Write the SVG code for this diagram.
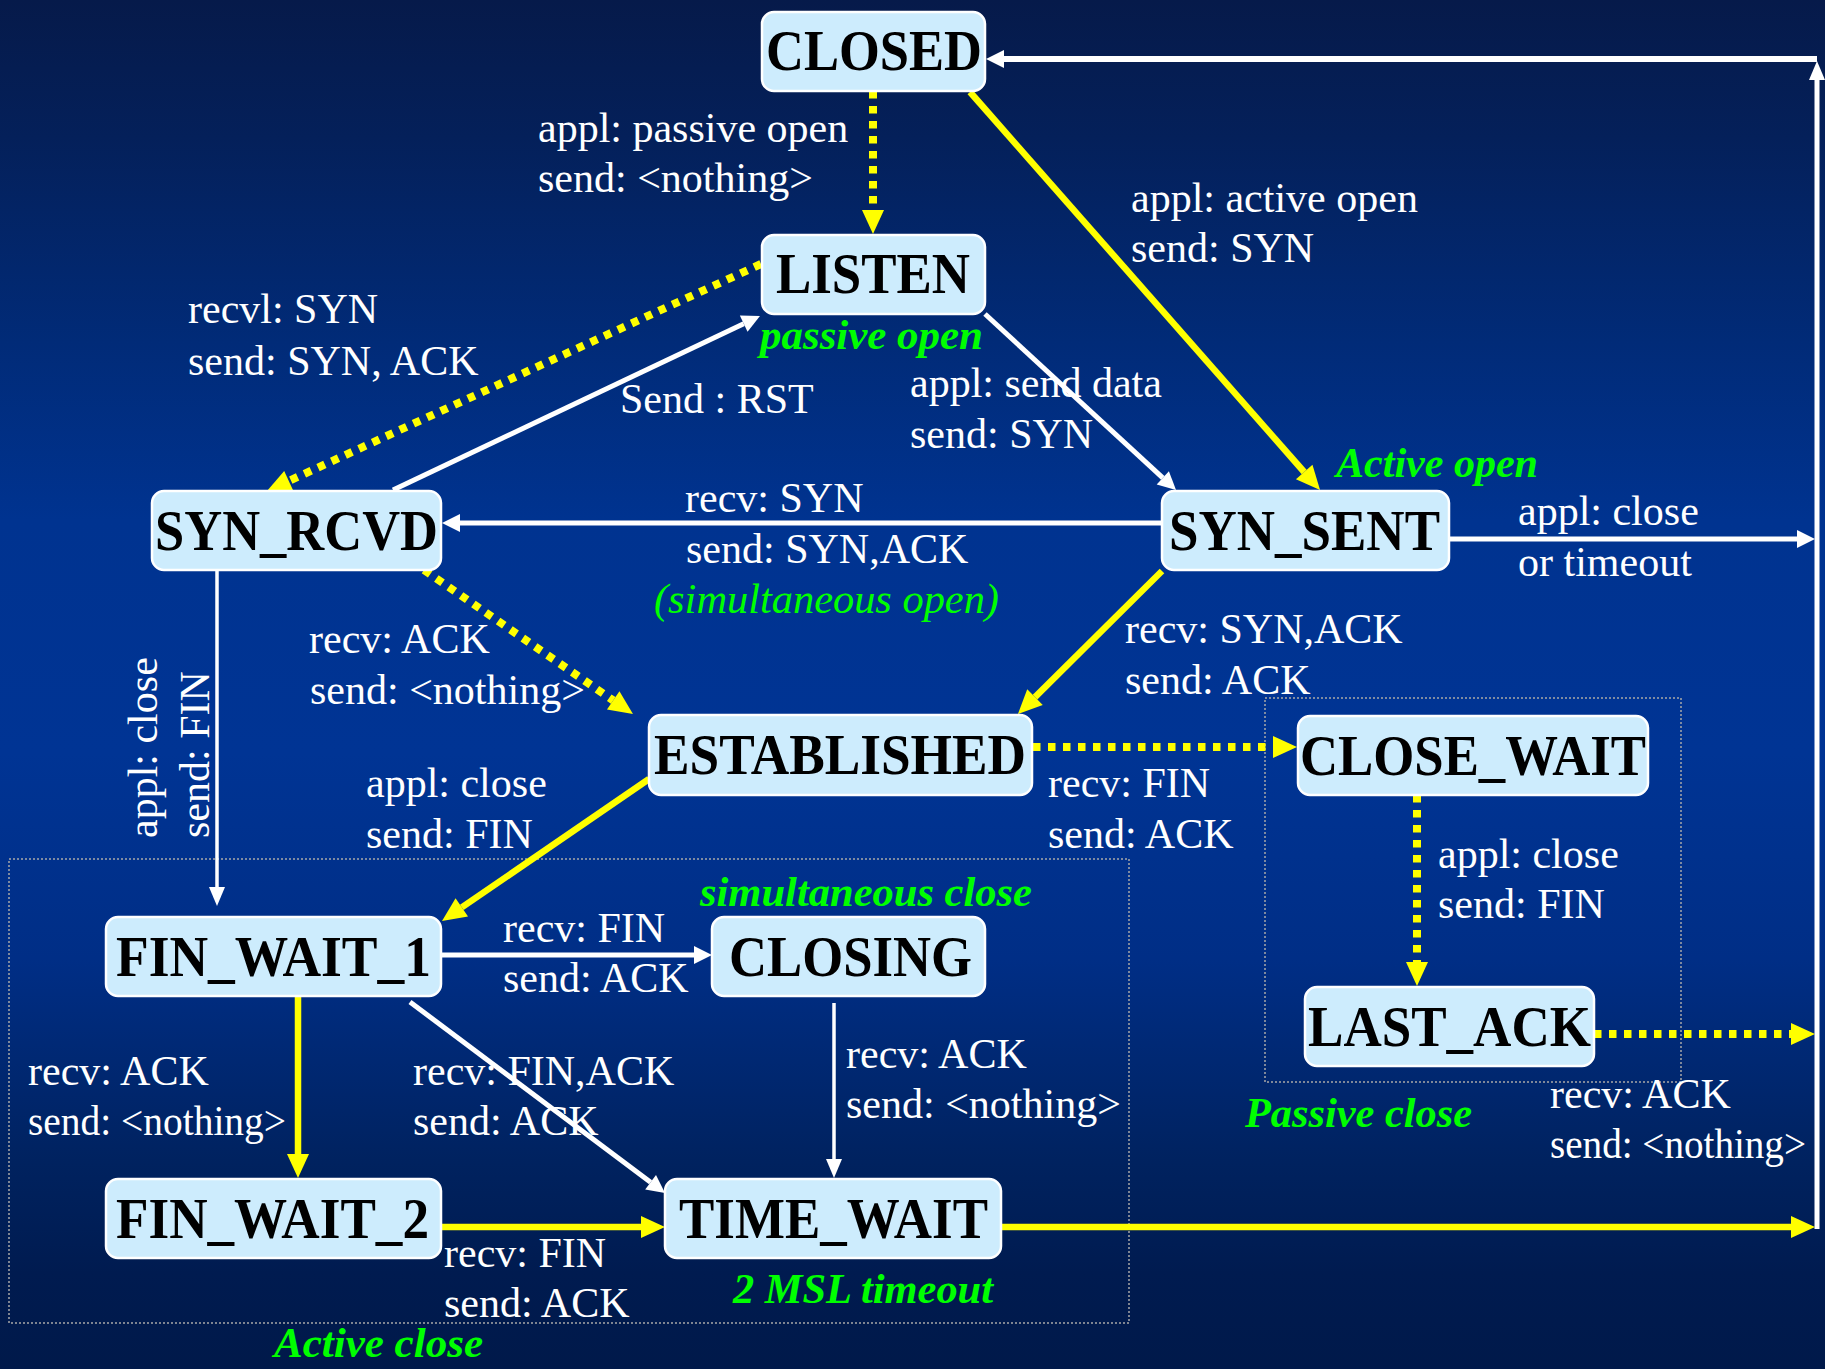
<svg xmlns="http://www.w3.org/2000/svg" width="1825" height="1369" viewBox="0 0 1825 1369">
  <defs>
    <linearGradient id="bg" x1="0" y1="0" x2="0" y2="1">
      <stop offset="0" stop-color="#061a4a"/>
      <stop offset="0.10" stop-color="#04205a"/>
      <stop offset="0.25" stop-color="#012b78"/>
      <stop offset="0.38" stop-color="#003390"/>
      <stop offset="0.55" stop-color="#003494"/>
      <stop offset="0.70" stop-color="#002e86"/>
      <stop offset="0.85" stop-color="#00225f"/>
      <stop offset="0.93" stop-color="#001b50"/>
      <stop offset="1" stop-color="#00194a"/>
    </linearGradient>
    <!-- arrowheads: the line ends at the base, the head extends forward -->
    <marker id="ay" markerUnits="userSpaceOnUse" markerWidth="24" markerHeight="22" refX="0" refY="11" orient="auto" overflow="visible">
      <path d="M0,0 L24,11 L0,22 z" fill="#ffff00"/>
    </marker>
    <marker id="aw" markerUnits="userSpaceOnUse" markerWidth="18" markerHeight="18" refX="0" refY="9" orient="auto" overflow="visible">
      <path d="M0,0 L18,9 L0,18 z" fill="#ffffff"/>
    </marker>
    <marker id="awt" markerUnits="userSpaceOnUse" markerWidth="19" markerHeight="16" refX="0" refY="8" orient="auto" overflow="visible">
      <path d="M0,0 L19,8 L0,16 z" fill="#ffffff"/>
    </marker>
    <style>
      .node rect { fill: #cdecfd; stroke: #ffffff; stroke-width: 2.5; }
      .node text { font-family: "Liberation Serif", "Times New Roman", serif; font-weight: bold; font-size: 56px; fill: #000000; }
      .lbl { font-family: "Liberation Serif", "Times New Roman", serif; font-size: 42px; fill: #ffffff; }
      .note { font-family: "Liberation Serif", "Times New Roman", serif; font-size: 42px; fill: #00ff00; font-style: italic; font-weight: bold; }
      .note2 { font-family: "Liberation Serif", "Times New Roman", serif; font-size: 42px; fill: #00ff00; font-style: italic; }
      .y { stroke: #ffff00; stroke-width: 6.5; fill: none; marker-end: url(#ay); }
      .yd { stroke: #ffff00; stroke-width: 8; stroke-dasharray: 7.5 7.5; fill: none; marker-end: url(#ay); }
      .w { stroke: #ffffff; stroke-width: 5; fill: none; marker-end: url(#aw); }
      .wt { stroke: #ffffff; stroke-width: 3.5; fill: none; marker-end: url(#awt); }
      .region { fill: none; stroke: #a8a8a8; stroke-width: 1.5; stroke-dasharray: 2 2; }
    </style>
  </defs>

  <rect x="0" y="0" width="1825" height="1369" fill="url(#bg)"/>

  <!-- grouping frames -->
  <g id="regions">
    <rect class="region" x="9" y="859" width="1120" height="464"/>
    <rect class="region" x="1265" y="698" width="416" height="384"/>
  </g>

  <g id="connectors">
    <!-- CLOSED -> LISTEN -->
    <line class="yd" x1="873" y1="91" x2="873" y2="210"/>
    <!-- CLOSED -> SYN_SENT -->
    <line class="y" x1="970" y1="92" x2="1304.2" y2="472"/>
    <!-- LISTEN -> SYN_RCVD -->
    <line class="yd" x1="761" y1="264" x2="288.8" y2="481"/>
    <!-- SYN_RCVD -> LISTEN -->
    <line class="w" x1="393" y1="490" x2="743.7" y2="323.7"/>
    <!-- LISTEN -> SYN_SENT -->
    <line class="w" x1="985" y1="314" x2="1162.8" y2="477.8"/>
    <!-- SYN_SENT -> SYN_RCVD -->
    <line class="w" x1="1162" y1="523" x2="460" y2="523"/>
    <!-- SYN_SENT -> right return -->
    <line class="w" x1="1449" y1="539" x2="1797" y2="539"/>
    <!-- SYN_RCVD -> ESTABLISHED -->
    <line class="yd" x1="424" y1="570" x2="613.2" y2="700.4"/>
    <!-- SYN_SENT -> ESTABLISHED -->
    <line class="y" x1="1162" y1="571" x2="1035" y2="697.1"/>
    <!-- SYN_RCVD -> FIN_WAIT_1 -->
    <line class="wt" x1="217" y1="570" x2="217" y2="887"/>
    <!-- ESTABLISHED -> FIN_WAIT_1 -->
    <line class="y" x1="649" y1="779" x2="461.8" y2="907.4"/>
    <!-- ESTABLISHED -> CLOSE_WAIT -->
    <line class="yd" x1="1033" y1="747" x2="1273" y2="747"/>
    <!-- CLOSE_WAIT -> LAST_ACK -->
    <line class="yd" x1="1417" y1="795" x2="1417" y2="962"/>
    <!-- LAST_ACK -> right return -->
    <line class="yd" x1="1594" y1="1034" x2="1791" y2="1034"/>
    <!-- FIN_WAIT_1 -> CLOSING -->
    <line class="w" x1="441" y1="955" x2="694" y2="955"/>
    <!-- FIN_WAIT_1 -> FIN_WAIT_2 -->
    <line class="y" x1="298" y1="996" x2="298" y2="1154"/>
    <!-- FIN_WAIT_1 -> TIME_WAIT -->
    <line class="w" x1="410" y1="1002" x2="650.6" y2="1182.2"/>
    <!-- CLOSING -> TIME_WAIT -->
    <line class="wt" x1="834" y1="1003" x2="834" y2="1159"/>
    <!-- FIN_WAIT_2 -> TIME_WAIT -->
    <line class="y" x1="441" y1="1227" x2="641" y2="1227"/>
    <!-- TIME_WAIT -> right return -->
    <line class="y" x1="1001" y1="1227" x2="1791" y2="1227"/>
    <!-- return bus up the right side and back to CLOSED -->
    <line class="wt" x1="1817" y1="1229" x2="1817" y2="80" style="stroke-width:5"/>
    <line class="w" x1="1817" y1="59" x2="1004" y2="59" style="stroke-width:6"/>
  </g>

  <g id="nodes">
    <g id="CLOSED" class="node">
      <rect x="762" y="12" width="223" height="79" rx="12"/>
      <text x="766" y="70" textLength="216" lengthAdjust="spacingAndGlyphs">CLOSED</text>
    </g>
    <g id="LISTEN" class="node">
      <rect x="762" y="235" width="223" height="79" rx="12"/>
      <text x="776" y="293" textLength="194" lengthAdjust="spacingAndGlyphs">LISTEN</text>
    </g>
    <g id="SYN_RCVD" class="node">
      <rect x="152" y="491" width="289" height="79" rx="12"/>
      <text x="155" y="550" textLength="283" lengthAdjust="spacingAndGlyphs">SYN_RCVD</text>
    </g>
    <g id="SYN_SENT" class="node">
      <rect x="1162" y="491" width="287" height="79" rx="12"/>
      <text x="1169" y="550" textLength="271" lengthAdjust="spacingAndGlyphs">SYN_SENT</text>
    </g>
    <g id="ESTABLISHED" class="node">
      <rect x="649" y="715" width="383" height="80" rx="12"/>
      <text x="654" y="774" textLength="372" lengthAdjust="spacingAndGlyphs">ESTABLISHED</text>
    </g>
    <g id="CLOSE_WAIT" class="node">
      <rect x="1298" y="716" width="350" height="79" rx="12"/>
      <text x="1300" y="775" textLength="346" lengthAdjust="spacingAndGlyphs">CLOSE_WAIT</text>
    </g>
    <g id="LAST_ACK" class="node">
      <rect x="1305" y="987" width="289" height="79" rx="12"/>
      <text x="1308" y="1046" textLength="283" lengthAdjust="spacingAndGlyphs">LAST_ACK</text>
    </g>
    <g id="FIN_WAIT_1" class="node">
      <rect x="106" y="917" width="335" height="79" rx="12"/>
      <text x="116" y="976" textLength="315" lengthAdjust="spacingAndGlyphs">FIN_WAIT_1</text>
    </g>
    <g id="CLOSING" class="node">
      <rect x="712" y="917" width="273" height="79" rx="12"/>
      <text x="729" y="976" textLength="243" lengthAdjust="spacingAndGlyphs">CLOSING</text>
    </g>
    <g id="FIN_WAIT_2" class="node">
      <rect x="106" y="1179" width="335" height="79" rx="12"/>
      <text x="116" y="1238" textLength="313" lengthAdjust="spacingAndGlyphs">FIN_WAIT_2</text>
    </g>
    <g id="TIME_WAIT" class="node">
      <rect x="665" y="1179" width="336" height="79" rx="12"/>
      <text x="679" y="1238" textLength="309" lengthAdjust="spacingAndGlyphs">TIME_WAIT</text>
    </g>
  </g>

  <g id="labels">
    <text class="lbl" x="538" y="142">appl: passive open</text>
    <text class="lbl" x="538" y="192">send: &lt;nothing&gt;</text>

    <text class="lbl" x="1131" y="212">appl: active open</text>
    <text class="lbl" x="1131" y="262">send: SYN</text>

    <text class="lbl" x="188" y="323">recvl: SYN</text>
    <text class="lbl" x="188" y="375">send: SYN, ACK</text>

    <text class="lbl" x="620" y="413">Send : RST</text>

    <text class="lbl" x="910" y="397">appl: send data</text>
    <text class="lbl" x="910" y="448">send: SYN</text>

    <text class="lbl" x="685" y="512">recv: SYN</text>
    <text class="lbl" x="686" y="563">send: SYN,ACK</text>

    <text class="lbl" x="1518" y="525">appl: close</text>
    <text class="lbl" x="1518" y="576">or timeout</text>

    <text class="lbl" x="1125" y="643">recv: SYN,ACK</text>
    <text class="lbl" x="1125" y="694">send: ACK</text>

    <text class="lbl" x="309" y="653">recv: ACK</text>
    <text class="lbl" x="310" y="704">send: &lt;nothing&gt;</text>

    <text class="lbl" transform="translate(157,838) rotate(-90)">appl: close</text>
    <text class="lbl" transform="translate(209,838) rotate(-90)">send: FIN</text>

    <text class="lbl" x="366" y="797">appl: close</text>
    <text class="lbl" x="366" y="848">send: FIN</text>

    <text class="lbl" x="1048" y="797">recv: FIN</text>
    <text class="lbl" x="1048" y="848">send: ACK</text>

    <text class="lbl" x="1438" y="868">appl: close</text>
    <text class="lbl" x="1438" y="918">send: FIN</text>

    <text class="lbl" x="1550" y="1108">recv: ACK</text>
    <text class="lbl" x="1550" y="1158" textLength="256" lengthAdjust="spacingAndGlyphs">send: &lt;nothing&gt;</text>

    <text class="lbl" x="503" y="942">recv: FIN</text>
    <text class="lbl" x="503" y="992">send: ACK</text>

    <text class="lbl" x="28" y="1085">recv: ACK</text>
    <text class="lbl" x="28" y="1135" textLength="258" lengthAdjust="spacingAndGlyphs">send: &lt;nothing&gt;</text>

    <text class="lbl" x="413" y="1085">recv: FIN,ACK</text>
    <text class="lbl" x="413" y="1135">send: ACK</text>

    <text class="lbl" x="846" y="1068">recv: ACK</text>
    <text class="lbl" x="846" y="1118">send: &lt;nothing&gt;</text>

    <text class="lbl" x="444" y="1267">recv: FIN</text>
    <text class="lbl" x="444" y="1317">send: ACK</text>

    <!-- phase notes -->
    <text class="note" x="760" y="349" textLength="223" lengthAdjust="spacingAndGlyphs">passive open</text>
    <text class="note" x="1336" y="477" textLength="202" lengthAdjust="spacingAndGlyphs">Active open</text>
    <text class="note2" x="654" y="613" textLength="345" lengthAdjust="spacingAndGlyphs">(simultaneous open)</text>
    <text class="note" x="700" y="906" textLength="332" lengthAdjust="spacingAndGlyphs">simultaneous close</text>
    <text class="note" x="1245" y="1127" textLength="227" lengthAdjust="spacingAndGlyphs">Passive close</text>
    <text class="note" x="733" y="1303" textLength="260" lengthAdjust="spacingAndGlyphs">2 MSL timeout</text>
    <text class="note" x="274" y="1357" textLength="209" lengthAdjust="spacingAndGlyphs">Active close</text>
  </g>
</svg>
